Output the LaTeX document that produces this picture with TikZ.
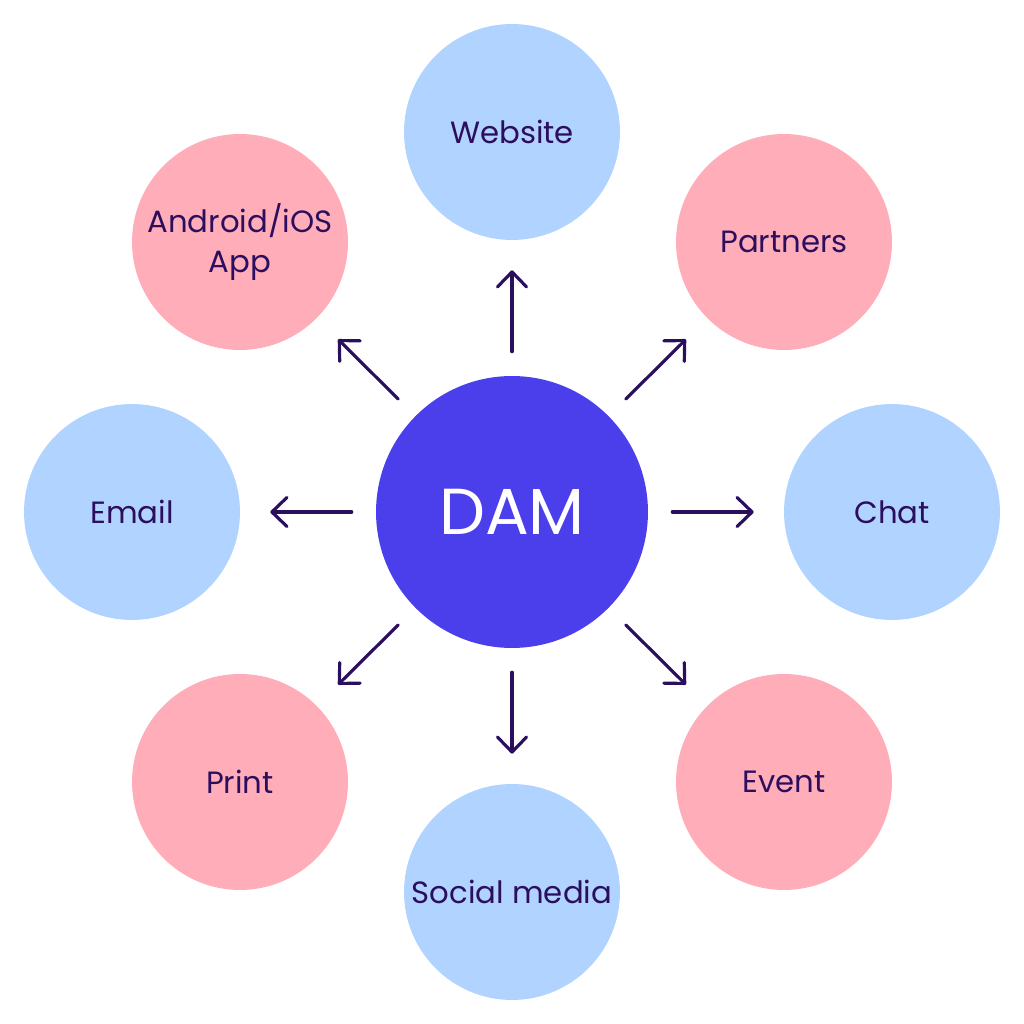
\documentclass[tikz,border=0pt]{standalone}
\usepackage{fontspec}
\setmainfont{Poppins}
\usepackage{xcolor}
\usepackage{tikz}
\usetikzlibrary{arrows.meta}
\definecolor{damblue}{HTML}{4A3FEB}
\definecolor{lightblue}{HTML}{B1D3FF}
\definecolor{lightpink}{HTML}{FFADB9}
\definecolor{darkpurple}{HTML}{2C0E5E}

\begin{document}
\begin{tikzpicture}[x=0.02cm,y=0.02cm]
\tikzstyle{hub} = [circle,fill=damblue,text=white,minimum size=5.44cm,inner sep=0,font=\fontsize{37}{42}\selectfont];
\tikzstyle{bluech} = [circle,fill=lightblue,text=darkpurple,minimum size=4.32cm,inner sep=0,align=center,font=\fontsize{17.5}{23}\selectfont];
\tikzstyle{pinkch} = [circle,fill=lightpink,text=darkpurple,minimum size=4.32cm,inner sep=0,align=center,font=\fontsize{17.5}{23}\selectfont];
\tikzstyle{arr} = [line width=1.8pt,darkpurple,line cap=round,-{Straight Barb[length=0.3cm,width=0.58cm,round]},shorten <=0.48cm,shorten >=0.6cm];
\useasboundingbox (0,0) rectangle (1024,1024);
\node [hub] (v0) at (512,512) {DAM};
\node [bluech] (v1) at (512,892) {Website};
\node [pinkch] (v2) at (784,782) {Partners};
\node [bluech] (v3) at (892,512) {Chat};
\node [pinkch] (v4) at (784,242) {Event};
\node [bluech] (v5) at (512,132) {Social media};
\node [pinkch] (v6) at (240,242) {Print};
\node [bluech] (v7) at (132,512) {Email};
\node [pinkch] (v8) at (240,782) {Android/iOS\\App};
\draw [arr] (v0) edge (v1);
\draw [arr] (v0) edge (v2);
\draw [arr] (v0) edge (v3);
\draw [arr] (v0) edge (v4);
\draw [arr] (v0) edge (v5);
\draw [arr] (v0) edge (v6);
\draw [arr] (v0) edge (v7);
\draw [arr] (v0) edge (v8);
\end{tikzpicture}
\end{document}
